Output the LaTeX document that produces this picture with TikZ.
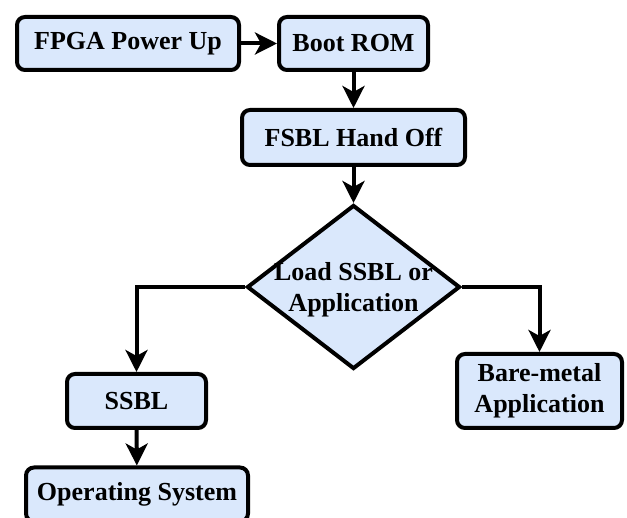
\documentclass[tikz,border=0pt]{standalone}
\usepackage{fontspec}
\setmainfont{Liberation Serif}
\usetikzlibrary{shapes.geometric,arrows.meta}
\definecolor{boxfill}{HTML}{DAE8FC}
\tikzset{
  stepbox/.style={draw=black, fill=boxfill, line width=4pt, rounded corners=8pt,
    inner sep=0pt, align=center, font=\fontsize{26}{31}\selectfont\bfseries},
  decision/.style={draw=black, fill=boxfill, line width=4pt, shape=diamond,
    inner sep=0pt, minimum width=213pt, minimum height=164pt},
  flow/.style={line width=4pt, -{Stealth[length=22pt, width=22pt, inset=6pt]}},
}
\begin{document}
\begin{tikzpicture}[x=1pt, y=-1pt]
  \useasboundingbox (0,0) rectangle (627,518);
  \clip (0,0) rectangle (627,518);
  \fill[white] (0,0) rectangle (627,518);

  % boxes of the boot sequence
  \node[stepbox, minimum width=222pt, minimum height=53pt] (power) at (128,43.5) {FPGA Power Up};
  \node[stepbox, minimum width=149pt, minimum height=53pt] (rom) at (353.5,43.5) {Boot ROM};
  \node[stepbox, minimum width=223pt, minimum height=55pt] (fsbl) at (353.5,137.5) {FSBL Hand Off};
  \node[decision] (choice) at (353.5,287) {};
  \node[font=\fontsize{26}{31}\selectfont\bfseries, align=center, inner sep=0pt] (choicetext) at (353.5,290) {Load SSBL or\\Application};
  \node[stepbox, minimum width=139pt, minimum height=54pt] (ssbl) at (136.5,401) {SSBL};
  \node[stepbox, minimum width=222pt, minimum height=54pt] (os) at (137,494.5) {Operating System};
  \node[stepbox, minimum width=165pt, minimum height=74pt] (bare) at (539.5,391) {Bare-metal\\Application};

  % connectors
  \draw[flow] (power) -- (rom);
  \draw[flow] (rom) -- (fsbl);
  \draw[flow] (fsbl) -- (choice.north);
  \draw[flow, rounded corners=0pt] (choice.west) -| (ssbl.north);
  \draw[flow, rounded corners=0pt] (choice.east) -| (bare.north);
  \draw[flow] (ssbl) -- (os);
\end{tikzpicture}
\end{document}
